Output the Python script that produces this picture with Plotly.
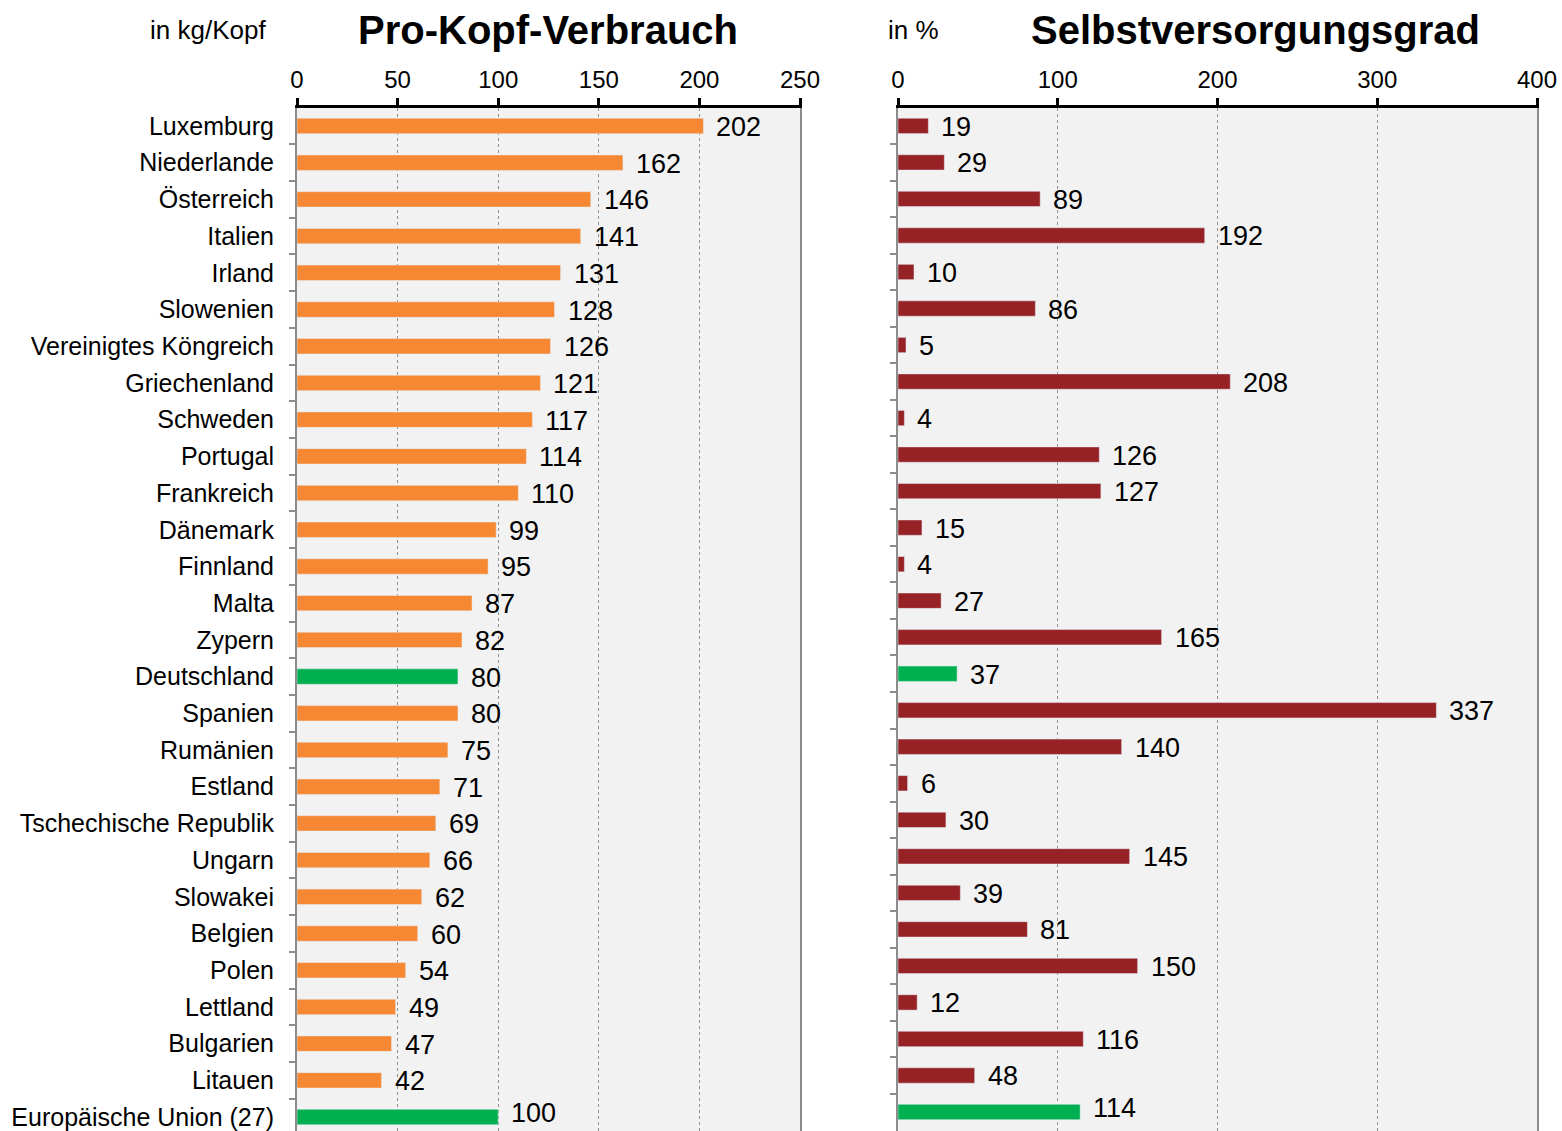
import plotly.graph_objects as go

countries = ["Luxemburg", "Niederlande", "Österreich", "Italien", "Irland", "Slowenien",
             "Vereinigtes Köngreich", "Griechenland", "Schweden", "Portugal", "Frankreich",
             "Dänemark", "Finnland", "Malta", "Zypern", "Deutschland", "Spanien", "Rumänien",
             "Estland", "Tschechische Republik", "Ungarn", "Slowakei", "Belgien", "Polen",
             "Lettland", "Bulgarien", "Litauen", "Europäische Union (27)"]
consumption = [202, 162, 146, 141, 131, 128, 126, 121, 117, 114, 110, 99, 95, 87, 82, 80, 80,
               75, 71, 69, 66, 62, 60, 54, 49, 47, 42, 100]
self_sufficiency = [19, 29, 89, 192, 10, 86, 5, 208, 4, 126, 127, 15, 4, 27, 165, 37, 337,
                    140, 6, 30, 145, 39, 81, 150, 12, 116, 48, 114]
highlight = ["Deutschland", "Europäische Union (27)"]
x1_ticks = [0, 50, 100, 150, 200, 250]
x2_ticks = [0, 100, 200, 300, 400]

ORANGE = "#F78833"
RED = "#962226"
GREEN = "#00B050"
FONT = "Liberation Sans, Arial, sans-serif"

col1 = [GREEN if c in highlight else ORANGE for c in countries]
col2 = [GREEN if c in highlight else RED for c in countries]

fig = go.Figure()
fig.add_trace(go.Bar(y=countries, x=consumption, orientation="h", marker_color=col1,
                     width=0.42, xaxis="x", yaxis="y", showlegend=False))
fig.add_trace(go.Bar(y=countries, x=self_sufficiency, orientation="h", marker_color=col2,
                     width=0.42, xaxis="x2", yaxis="y2", showlegend=False))

W, H = 1562, 1131
annotations = []
for c, v in zip(countries, consumption):
    annotations.append(dict(x=v, y=c, xref="x", yref="y", text=str(v), showarrow=False,
                            xanchor="left", yanchor="middle", xshift=11,
                            yshift=4 if c == countries[-1] else -1,
                            font=dict(size=27, color="black", family=FONT)))
for c, v in zip(countries, self_sufficiency):
    annotations.append(dict(x=v, y=c, xref="x2", yref="y2", text=str(v), showarrow=False,
                            xanchor="left", yanchor="middle", xshift=11,
                            yshift=4 if c == countries[-1] else -1,
                            font=dict(size=27, color="black", family=FONT)))

def title(txt, xc, size, bold):
    return dict(x=xc / W, y=1 - 30 / H, xref="paper", yref="paper",
                text=f"<b>{txt}</b>" if bold else txt, showarrow=False,
                xanchor="center", yanchor="middle",
                font=dict(size=size, color="black", family=FONT))

annotations += [title("Pro-Kopf-Verbrauch", 548, 40, True),
                title("in kg/Kopf", 208, 26, False),
                title("Selbstversorgungsgrad", 1255, 40, True),
                title("in %", 914, 26, False)]

xcommon = dict(side="top", showgrid=True, gridcolor="#8f8f8f", griddash="dot", gridwidth=1,
               showline=True, linecolor="black", linewidth=3, ticks="outside", ticklen=7,
               tickwidth=3, tickcolor="black", zeroline=False, automargin=False,
               tickfont=dict(size=24, color="black", family=FONT))
ycommon = dict(type="category", categoryorder="array", categoryarray=countries,
               showline=True, linecolor="#8c8c8c", linewidth=2, mirror=True,
               ticks="outside", tickson="boundaries", ticklen=6, tickcolor="#8c8c8c",
               tickwidth=1.5, showgrid=False, zeroline=False, automargin=False)

ytop = 1 - 108 / H
fig.update_layout(
    width=W, height=H,
    margin=dict(l=0, r=0, t=0, b=0),
    paper_bgcolor="white", plot_bgcolor="#F2F2F2",
    font=dict(family=FONT, color="black"),
    xaxis=dict(domain=[297 / W, 800 / W], range=[0, 250], tickvals=x1_ticks, anchor="y", **xcommon),
    yaxis=dict(domain=[0, ytop], range=[27.38, -0.49], anchor="x",
               tickfont=dict(size=25, color="black", family=FONT), ticklabelstandoff=16, **ycommon),
    xaxis2=dict(domain=[898 / W, 1537 / W], range=[0, 400], tickvals=x2_ticks, anchor="y2", **xcommon),
    yaxis2=dict(domain=[0, ytop], range=[27.52, -0.49], anchor="x2", showticklabels=False, **ycommon),
    annotations=annotations,
)

fig.write_html("out.html", config={"displayModeBar": False},
               post_script="document.body.style.margin='0';document.body.style.overflow='hidden';")
